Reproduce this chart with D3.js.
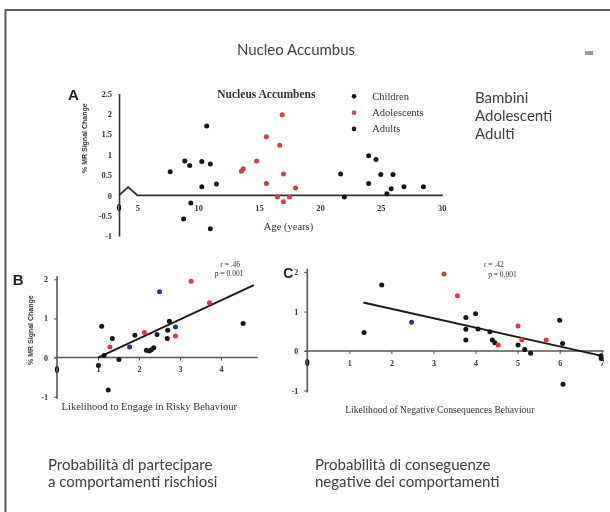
<!DOCTYPE html>
<html>
<head>
<meta charset="utf-8">
<script src="https://cdn.jsdelivr.net/npm/d3@7"></script>
<style>
  html, body { margin: 0; padding: 0; background: #fff; }
  svg { display: block; }
  .serif { font-family: "Liberation Serif", "DejaVu Serif", serif; }
  .cap { font-family: Lato, "Open Sans", sans-serif; fill: #404040; }
</style>
</head>
<body>
<svg id="chart" width="610" height="512"></svg>
<script>
// ---- Panel A: Nucleus Accumbens response by age ----
const childAge      = [7.7, 8.9, 9.3, 10.3, 11.0, 10.7, 10.3, 11.5, 9.4, 8.8, 11.0];
const childSignal   = [0.58, 0.84, 0.73, 0.83, 0.77, 1.70, 0.21, 0.28, -0.19, -0.58, -0.82];
const adolAge       = [13.55, 13.7, 14.8, 15.6, 15.6, 16.7, 16.9, 17.0, 16.5, 17.0, 17.5, 18.0];
const adolSignal    = [0.59, 0.65, 0.84, 1.44, 0.29, 1.23, 1.98, 0.52, -0.04, -0.16, -0.04, 0.18];
const adultAge      = [21.7, 22.0, 24.0, 24.6, 24.0, 25.0, 26.0, 25.5, 25.85, 26.9, 28.5];
const adultSignal   = [0.52, -0.04, 0.97, 0.88, 0.29, 0.51, 0.51, 0.04, 0.16, 0.21, 0.21];
const ageTicks      = [5, 10, 15, 20, 25, 30];
const signalTicksA  = [-1, -0.5, 0, 0.5, 1, 1.5, 2, 2.5];
const legendLabels  = ["Children", "Adolescents", "Adults"];

// ---- Panel B: likelihood to engage in risky behaviour ----
const riskX     = [1.09, 1.35, 1.01, 1.25, 1.51, 1.15, 1.90, 2.18, 2.25, 2.30, 2.36, 2.44, 2.69, 2.74, 2.70, 4.54,
                   1.29, 2.13, 2.89, 3.27, 3.72,
                   1.77, 2.50, 2.89];
const riskY     = [0.80, 0.49, -0.20, -0.83, -0.05, 0.05, 0.57, 0.19, 0.17, 0.20, 0.25, 0.59, 0.49, 0.93, 0.70, 0.87,
                   0.27, 0.64, 0.55, 1.95, 1.40,
                   0.27, 1.68, 0.78];
const riskGroup = ["k","k","k","k","k","k","k","k","k","k","k","k","k","k","k","k",
                   "r","r","r","r","r",
                   "b","b","b"];
const riskFitX  = [1.0, 4.8];
const riskFitY  = [0.0, 1.85];
const riskTicksX = [1, 2, 3, 4];
const riskStats  = ["r = .46", "p = 0.001"];

// ---- Panel C: likelihood of negative consequences ----
const consX     = [1.35, 1.77, 3.77, 3.77, 3.77, 4.00, 4.06, 4.34, 4.40, 4.46, 5.01, 5.17, 5.31, 6.00, 6.07, 6.08, 6.99, 6.98,
                   3.25, 3.57, 4.54, 5.01, 5.10, 5.68,
                   2.48];
const consY     = [0.47, 1.67, 0.85, 0.55, 0.28, 0.94, 0.56, 0.49, 0.28, 0.21, 0.15, 0.04, -0.06, 0.78, 0.19, -0.84, -0.19, -0.12,
                   1.95, 1.40, 0.15, 0.63, 0.28, 0.28,
                   0.73];
const consGroup = ["k","k","k","k","k","k","k","k","k","k","k","k","k","k","k","k","k","k",
                   "r","r","r","r","r","r",
                   "b"];
const consFitX  = [1.33, 7.03];
const consFitY  = [1.23, -0.13];
const consTicksX = [1, 2, 3, 4, 5, 6, 7];
const consStats  = ["r = .42", "p = 0.001"];

const signalTicksBC = [-1, 0, 1, 2];

const colors = { k: "#161616", r: "#da3a46", b: "#2b3690" };
const fmt = d => String(d);

const svg = d3.select("#chart");

// soft focus for the scanned figure panels
const defs = svg.append("defs");
defs.append("filter").attr("id", "soft")
  .attr("x", "-5%").attr("y", "-5%").attr("width", "110%").attr("height", "110%")
  .append("feGaussianBlur").attr("stdDeviation", 0.55);

// frame
svg.append("path")
  .attr("d", "M5.5,512 V10 H610")
  .attr("fill", "none").attr("stroke", "#5a5a5a").attr("stroke-width", 2);

// =================== Panel A ===================
const gA = svg.append("g").attr("filter", "url(#soft)");
const xA = d3.scaleLinear().domain([5, 30]).range([137.3, 441.7]);
const yA = d3.scaleLinear().domain([-1, 2.5]).range([236, 93.5]);
const originA = xA(3.5);

// y axis
const yAxisA = gA.append("g").attr("transform", `translate(${originA},0)`)
  .call(d3.axisLeft(yA).tickValues(signalTicksA).tickFormat(fmt).tickSize(0).tickPadding(7));
yAxisA.select(".domain").attr("stroke", "#333").attr("stroke-width", 1.6);
yAxisA.selectAll("text").attr("class", "serif").attr("font-size", 8.5).attr("font-weight", "bold").attr("fill", "#333");

// x axis with break after the origin
const bw = xA(5) - originA;
gA.append("path")
  .attr("d", `M${originA},${yA(0)} L${originA + bw * 0.5},${yA(0.2)} L${xA(5)},${yA(0)} L${xA(30.1)},${yA(0)}`)
  .attr("fill", "none").attr("stroke", "#333").attr("stroke-width", 1.8);
const xAxisA = gA.append("g").attr("transform", `translate(0,${yA(0)})`)
  .call(d3.axisBottom(xA).tickValues(ageTicks).tickFormat(fmt).tickSize(0).tickPadding(10));
xAxisA.select(".domain").remove();
xAxisA.selectAll("text").attr("class", "serif").attr("font-size", 8.5).attr("font-weight", "bold").attr("fill", "#333");
gA.append("text").attr("class", "serif")
  .attr("x", originA).attr("y", yA(0) + 16).attr("text-anchor", "middle")
  .attr("font-size", 10).attr("font-weight", "bold").attr("fill", "#111").text("0");

// titles
gA.append("text").attr("class", "serif")
  .attr("x", (xA(5) + xA(30)) / 2 - 1).attr("y", yA(-0.85))
  .attr("text-anchor", "middle").attr("font-size", 10.5).attr("fill", "#333").text("Age (years)");
gA.append("text")
  .attr("transform", `translate(${originA - 32},${yA(1.5) + 4}) rotate(-90)`)
  .attr("text-anchor", "middle").attr("font-family", "Liberation Sans, Arial, sans-serif")
  .attr("font-size", 7).attr("font-weight", "bold").attr("fill", "#333").text("% MR Signal Change");
gA.append("text")
  .attr("x", originA - 51).attr("y", yA(2.35))
  .attr("font-family", "Liberation Sans, Arial, sans-serif")
  .attr("font-size", 15).attr("font-weight", "bold").attr("fill", "#222").text("A");

// legend
gA.append("text").attr("class", "serif")
  .attr("x", xA(15.6)).attr("y", yA(2.4))
  .attr("text-anchor", "middle").attr("font-size", 11.5).attr("font-weight", "bold").attr("fill", "#333")
  .text("Nucleus Accumbens");
const legendColors = [colors.k, colors.r, colors.k];
legendLabels.forEach((lab, i) => {
  const ly = yA(2.43 - i * 0.4);
  gA.append("circle").attr("cx", xA(22.8)).attr("cy", ly).attr("r", 2.3).attr("fill", legendColors[i]);
  gA.append("text").attr("class", "serif")
    .attr("x", xA(24.3)).attr("y", ly + 3.5).attr("font-size", 10.5).attr("fill", "#333").text(lab);
});

// points
const ptsA = [
  ...childAge.map((a, i) => ({ x: a, y: childSignal[i], c: colors.k })),
  ...adolAge.map((a, i) => ({ x: a, y: adolSignal[i], c: colors.r })),
  ...adultAge.map((a, i) => ({ x: a, y: adultSignal[i], c: colors.k }))
];
gA.selectAll("circle.pt").data(ptsA).join("circle").attr("class", "pt")
  .attr("cx", d => xA(d.x)).attr("cy", d => yA(d.y)).attr("r", 2.5).attr("fill", d => d.c);

// =================== Panels B and C ===================
function scatterPanel(opt) {
  const g = svg.append("g").attr("filter", "url(#soft)");
  const x = opt.x, y = opt.y;

  const yAxis = g.append("g").attr("transform", `translate(${x(0)},0)`)
    .call(d3.axisLeft(y).tickValues(signalTicksBC).tickFormat(fmt).tickSize(3).tickPadding(6));
  yAxis.select(".domain").attr("d", `M0,${y(2.08)}V${y(-1.05)}`).attr("stroke", "#555").attr("stroke-width", 1.6);
  yAxis.selectAll(".tick line").attr("stroke", "#555");
  yAxis.selectAll("text").attr("class", "serif").attr("font-size", 8).attr("font-weight", "bold").attr("fill", "#333");

  const xAxis = g.append("g").attr("transform", `translate(0,${y(0)})`)
    .call(d3.axisBottom(x).tickValues(opt.ticks).tickFormat(fmt).tickSize(3).tickPadding(6));
  xAxis.select(".domain").attr("d", `M${x(-0.06)},0H${x(opt.xEnd)}`).attr("stroke", "#555").attr("stroke-width", 1.6);
  xAxis.selectAll(".tick line").attr("stroke", "#555");
  xAxis.selectAll("text").attr("class", "serif").attr("font-size", 8).attr("font-weight", "bold").attr("fill", "#333");
  g.append("text").attr("class", "serif")
    .attr("x", x(0)).attr("y", y(0) + 15).attr("text-anchor", "middle")
    .attr("font-size", 10).attr("font-weight", "bold").attr("fill", "#111").text("0");

  // panel letter
  g.append("text").attr("x", opt.letterX).attr("y", y(1.85))
    .attr("font-family", "Liberation Sans, Arial, sans-serif")
    .attr("font-size", opt.letterSize).attr("font-weight", "bold").attr("fill", "#222").text(opt.letter);

  if (opt.yLabel) {
    g.append("text")
      .attr("transform", `translate(${x(0) - 24},${y(0.7)}) rotate(-90)`)
      .attr("text-anchor", "middle").attr("font-family", "Liberation Sans, Arial, sans-serif")
      .attr("font-size", 7).attr("font-weight", "bold").attr("fill", "#333").text("% MR Signal Change");
  }

  // statistics
  opt.stats.forEach((s, i) => {
    g.append("text").attr("class", "serif")
      .attr("x", opt.statX[i]).attr("y", opt.statY[i])
      .attr("font-size", 7.5).attr("fill", "#333").text(s);
  });

  // x title
  g.append("text").attr("class", "serif")
    .attr("x", opt.titleX).attr("y", opt.titleY)
    .attr("text-anchor", "middle").attr("font-size", opt.titleSize).attr("fill", "#333").text(opt.title);

  // fitted line
  g.append("line")
    .attr("x1", x(opt.fitX[0])).attr("y1", y(opt.fitY[0]))
    .attr("x2", x(opt.fitX[1])).attr("y2", y(opt.fitY[1]))
    .attr("stroke", "#1c1c1c").attr("stroke-width", 2);

  const pts = opt.px.map((v, i) => ({ x: v, y: opt.py[i], c: colors[opt.pg[i]] }));
  g.selectAll("circle.pt").data(pts).join("circle").attr("class", "pt")
    .attr("cx", d => x(d.x)).attr("cy", d => y(d.y)).attr("r", 2.5).attr("fill", d => d.c);
}

const xB = d3.scaleLinear().domain([0, 4]).range([57, 221]);
const yB = d3.scaleLinear().domain([-1, 2]).range([396.7, 279.3]);
scatterPanel({
  x: xB, y: yB, ticks: riskTicksX, xEnd: 4.9, letter: "B", letterSize: 15, letterX: xB(-1.08), yLabel: true,
  stats: riskStats, statX: [xB(3.98), xB(3.85)], statY: [yB(2.32), yB(2.08)],
  title: "Likelihood to Engage in Risky Behaviour", titleSize: 10.5, titleX: xB(2.25), titleY: yB(-1.34),
  fitX: riskFitX, fitY: riskFitY, px: riskX, py: riskY, pg: riskGroup
});

const xC = d3.scaleLinear().domain([0, 7]).range([307.3, 601.7]);
const yC = d3.scaleLinear().domain([-1, 2]).range([390.5, 272]);
scatterPanel({
  x: xC, y: yC, ticks: consTicksX, xEnd: 7.05, letter: "C", letterSize: 14, letterX: xC(-0.57), yLabel: false,
  stats: consStats, statX: [xC(4.2), xC(4.3)], statY: [yC(2.12), yC(1.87)],
  title: "Likelihood of Negative Consequences Behaviour", titleSize: 9.6, titleX: xC(3.15), titleY: yC(-1.56),
  fitX: consFitX, fitY: consFitY, px: consX, py: consY, pg: consGroup
});

// =================== Italian captions ===================
const caps = svg.append("g").attr("class", "cap");
caps.append("text").attr("x", 296).attr("y", 55).attr("text-anchor", "middle")
  .attr("font-size", 15).text("Nucleo Accumbus");
["Bambini", "Adolescenti", "Adulti"].forEach((t, i) => {
  caps.append("text").attr("x", 475).attr("y", 103 + i * 18).attr("font-size", 15).text(t);
});
[["Probabilità di partecipare", "a comportamenti rischiosi"],
 ["Probabilità di conseguenze", "negative dei comportamenti"]].forEach((lines, j) => {
  lines.forEach((t, i) => {
    caps.append("text").attr("x", j === 0 ? 48 : 315).attr("y", 470 + i * 17)
      .attr("font-size", 15).text(t);
  });
});
// small grey marker top right
svg.append("rect").attr("x", 585).attr("y", 51).attr("width", 8).attr("height", 4)
  .attr("fill", "#9a9a9a").attr("filter", "url(#soft)");
</script>
</body>
</html>
